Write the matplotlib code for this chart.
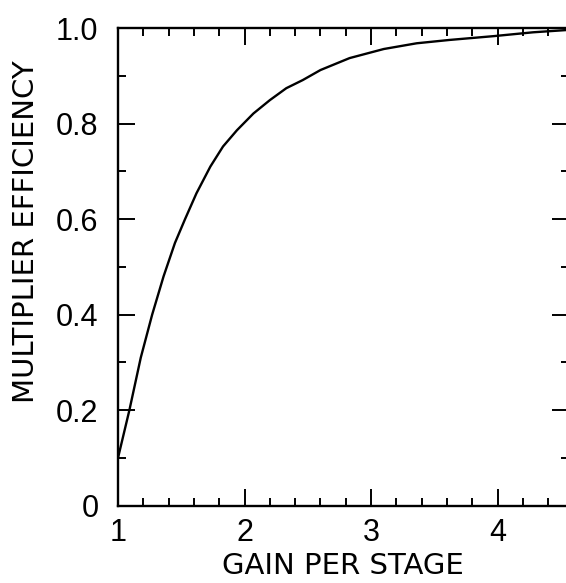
#!/usr/bin/env python3
"""Multiplier efficiency as a function of gain per stage."""
import matplotlib

matplotlib.use("Agg")
import matplotlib.pyplot as plt
from matplotlib.ticker import MultipleLocator

gain = [1.00, 1.09, 1.18, 1.27, 1.36, 1.45, 1.53, 1.62, 1.73, 1.83, 1.94,
        2.07, 2.20, 2.33, 2.46, 2.60, 2.83, 3.10, 3.36, 3.62, 3.97, 4.28, 4.56]
efficiency = [0.10, 0.20, 0.31, 0.40, 0.48, 0.55, 0.60, 0.654, 0.71, 0.752,
              0.786, 0.821, 0.849, 0.874, 0.891, 0.912, 0.937, 0.956, 0.968,
              0.975, 0.983, 0.991, 0.996]

x_ticks = [1, 2, 3, 4]
x_tick_labels = ["1", "2", "3", "4"]
y_ticks = [0, 0.2, 0.4, 0.6, 0.8, 1.0]
y_tick_labels = ["0", "0.2", "0.4", "0.6", "0.8", "1.0"]

W, H = 566, 583
plt.rcParams["font.family"] = ["Liberation Sans", "DejaVu Sans"]

fig = plt.figure(figsize=(W / 100, H / 100), dpi=100)
x0, x1 = 118.0, 568.5
y_top, y_bot = 28.0, 505.7
ax = fig.add_axes([x0 / W, (H - y_bot) / H, (x1 - x0) / W, (y_bot - y_top) / H])

ax.plot(gain, efficiency, color="black", lw=1.7, solid_capstyle="butt")

ax.set_xlim(1, 4.56)
ax.set_ylim(0, 1.0)
ax.set_xticks(x_ticks)
ax.set_xticklabels(x_tick_labels)
ax.set_yticks(y_ticks)
ax.set_yticklabels(y_tick_labels)
ax.xaxis.set_minor_locator(MultipleLocator(0.2))
ax.yaxis.set_minor_locator(MultipleLocator(0.1))

for side in ax.spines.values():
    side.set_linewidth(1.7)

ax.tick_params(which="both", direction="in", top=True, right=True,
               width=1.4, color="black")
ax.tick_params(which="major", length=12, labelsize=22)
ax.tick_params(which="minor", length=6)
ax.tick_params(axis="x", which="major", pad=9)
ax.tick_params(axis="y", which="major", pad=14)

label_font = {"family": ["DejaVu Sans"], "size": 21}
ax.set_xlabel("GAIN PER STAGE", fontdict=label_font, labelpad=3)
ax.set_ylabel("MULTIPLIER EFFICIENCY", fontdict=label_font)
# y label sits a little above the axis middle
ax.yaxis.set_label_coords(-0.173, 0.573)

fig.savefig("out.png", dpi=100)
